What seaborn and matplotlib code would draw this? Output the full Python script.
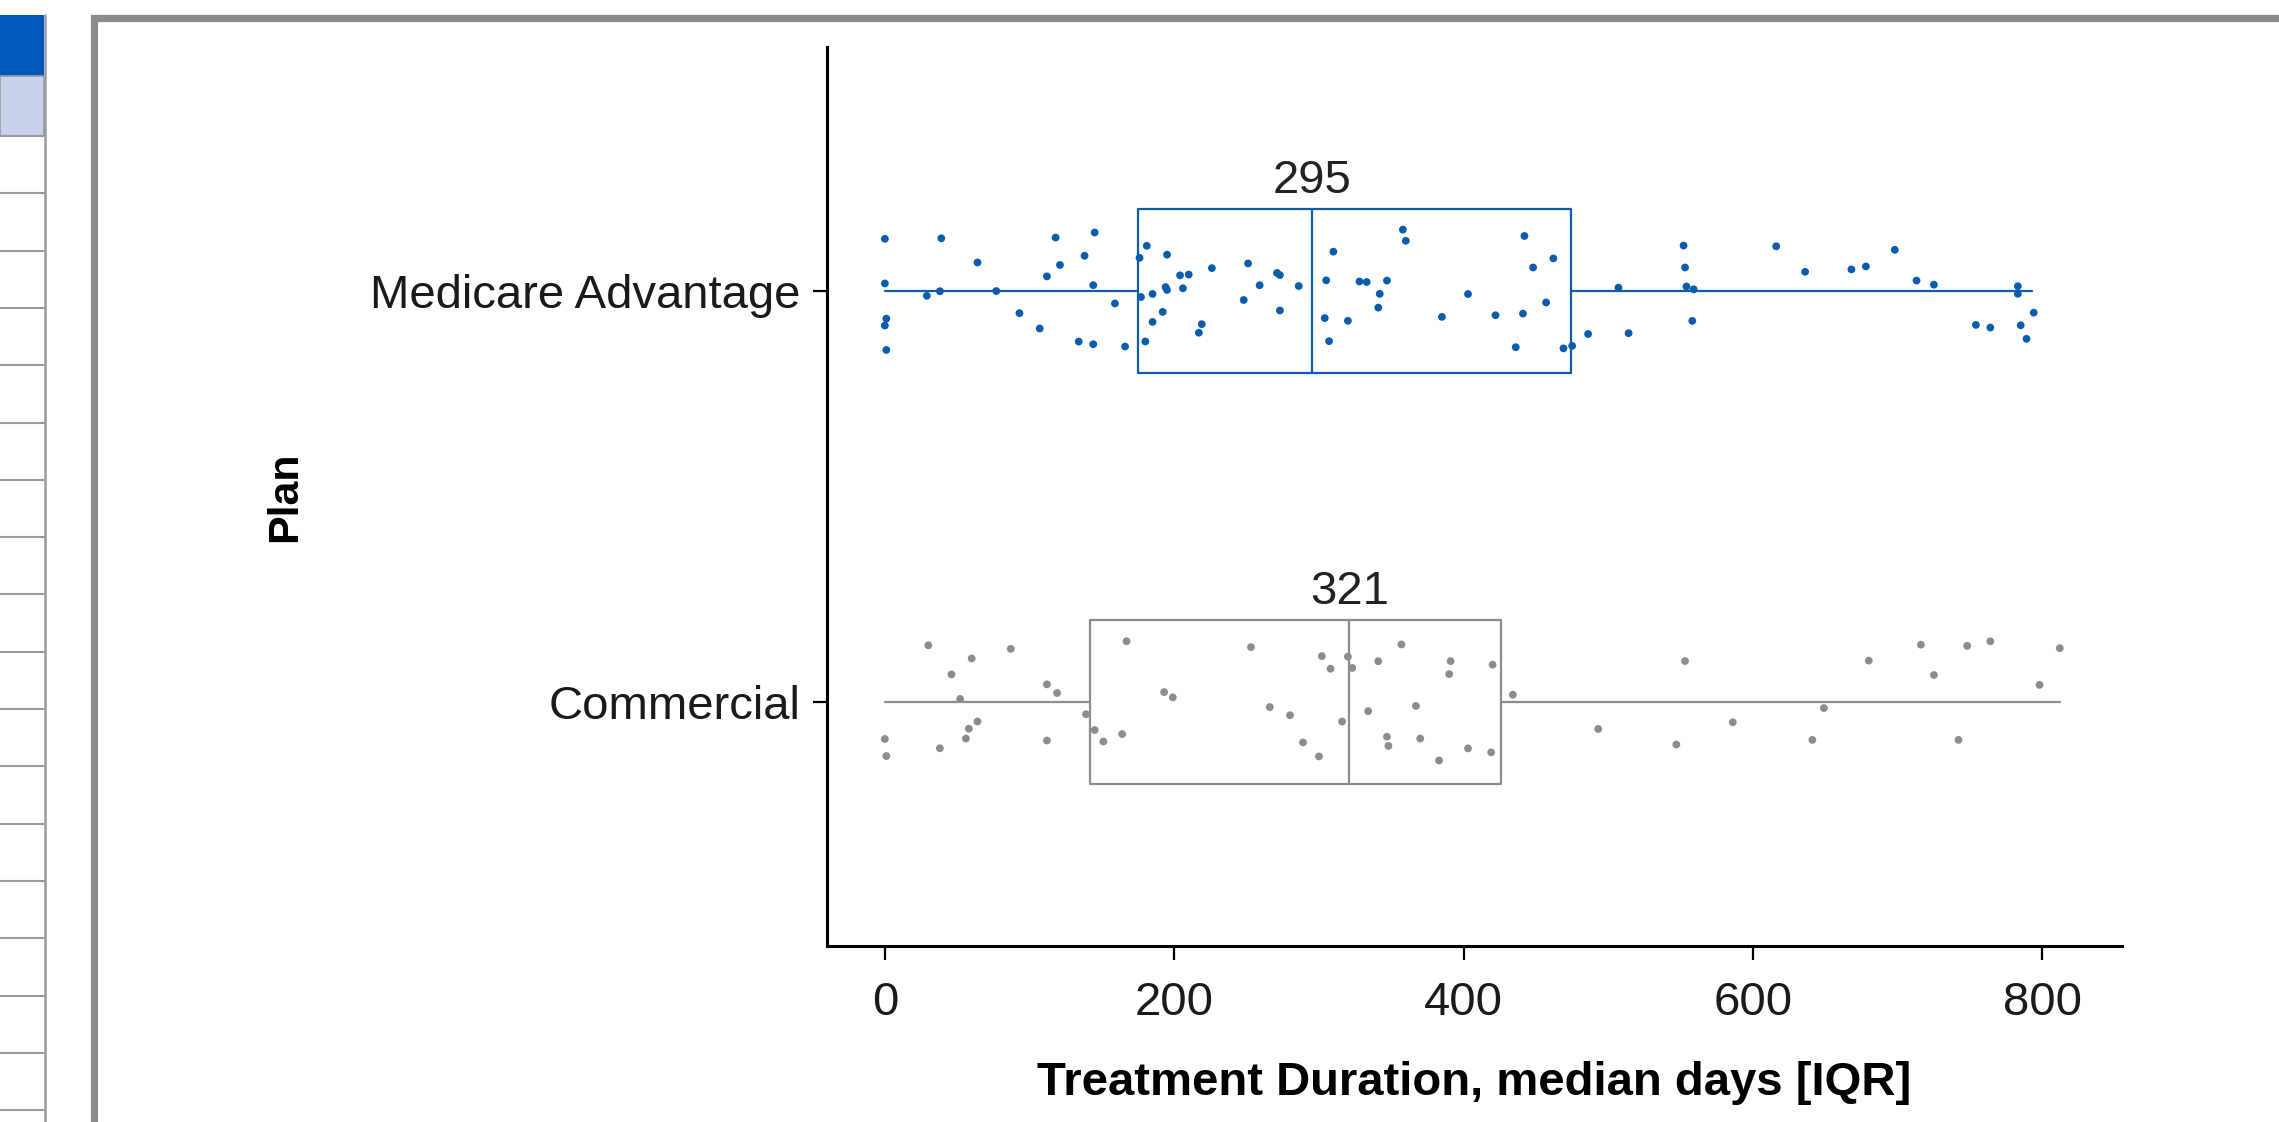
import numpy as np
import pandas as pd
import matplotlib
matplotlib.use("Agg")
import matplotlib.pyplot as plt
import seaborn as sns
from matplotlib.patches import Rectangle
from matplotlib.lines import Line2D

# ---------------- data ----------------
plans = ["Medicare Advantage", "Commercial"]

medicare_days = [0, 0, 0, 1, 1, 29, 38, 39, 64, 77, 93, 107, 112, 118, 121,
                 134, 138, 144, 144, 145, 159, 166, 176, 177, 180, 181, 185, 185,
                 192, 194, 195, 195, 204, 206, 210, 217, 219, 226, 248, 251, 259,
                 271, 273, 273, 286, 304, 305, 307, 310, 320, 328, 333, 341, 342,
                 347, 358, 360, 385, 403, 422, 436, 441, 442, 448, 457, 462, 469,
                 475, 486, 507, 514, 552, 553, 554, 558, 559, 616, 636, 668, 678,
                 698, 713, 725, 754, 764, 783, 783, 785, 789, 794]

commercial_days = [0, 1, 30, 38, 46, 52, 56, 58, 60, 64, 87, 112, 112, 119, 139,
                   145, 151, 164, 167, 193, 199, 253, 266, 280, 289, 300, 302, 308,
                   316, 320, 323, 334, 341, 347, 348, 357, 367, 370, 383, 390, 391,
                   403, 419, 420, 434, 493, 547, 553, 586, 641, 649, 680, 716, 725,
                   742, 748, 764, 798, 812]

medians = [295, 321]
q1_vals = [175, 142]
q3_vals = [474, 426]
whisker_low = [0, 0]
whisker_high = [793, 812]
median_labels = ["295", "321"]
x_ticks = [0, 200, 400, 600, 800]

colors = ["#0b5cab", "#8c8c8e"]

# ---------------- style ----------------
sns.set_theme(style="ticks")
plt.rcParams['font.family'] = ['Liberation Sans', 'DejaVu Sans']

W, H = 2279, 1122
fig = plt.figure(figsize=(W / 100, H / 100), dpi=100)
fig.patch.set_facecolor("white")

def fx(px):
    return px / W

def fy(py):
    return 1 - py / H

# page decorations (left table strip + grey frame)
fig.add_artist(Rectangle((0, fy(76)), fx(44), (76 - 15) / H,
                         transform=fig.transFigure, facecolor="#0058ba",
                         edgecolor="none"))
fig.add_artist(Rectangle((0, fy(136)), fx(44), (136 - 76) / H,
                         transform=fig.transFigure, facecolor="#c9d0e9",
                         edgecolor="#9a9aa0", lw=1.2))
row_lines = [136 + 57.3 * k for k in range(18)]
for ry in row_lines:
    fig.add_artist(Line2D([0, fx(44)], [fy(ry), fy(ry)], transform=fig.transFigure,
                          color="#9a9a9e", lw=1.5))
fig.add_artist(Line2D([fx(45), fx(45)], [fy(15), 0], transform=fig.transFigure,
                      color="#9a9a9e", lw=1.8))
fig.add_artist(Rectangle((fx(93.5), -0.2), 1.2, fy(18) + 0.2,
                         transform=fig.transFigure, facecolor="none",
                         edgecolor="#8a8a8f", lw=5.2))

# ---------------- axes ----------------
ax_left, ax_right = 827, 2122
ax = fig.add_axes([fx(ax_left), fy(946), fx(ax_right) - fx(ax_left), (946 - 47) / H])
ax.set_facecolor("none")

df = pd.DataFrame({
    "Plan": [plans[0]] * len(medicare_days) + [plans[1]] * len(commercial_days),
    "days": medicare_days + commercial_days,
})

np.random.seed(7)
sns.stripplot(data=df, x="days", y="Plan", order=plans, hue="Plan",
              hue_order=plans, palette=colors, jitter=0.15, size=5.6,
              linewidth=0, legend=False, ax=ax, zorder=3)

stats = []
for i in range(len(plans)):
    stats.append(dict(med=medians[i], q1=q1_vals[i], q3=q3_vals[i],
                      whislo=whisker_low[i], whishi=whisker_high[i], fliers=[]))

kw = dict(positions=[0, 1], widths=0.4, showcaps=False, showfliers=False,
          patch_artist=False, manage_ticks=False)
try:
    bp = ax.bxp(stats, orientation="horizontal", **kw)
except TypeError:
    bp = ax.bxp(stats, vert=False, **kw)

for i, c in enumerate(colors):
    bp["boxes"][i].set(color=c, linewidth=1.6, zorder=2)
    bp["medians"][i].set(color=c, linewidth=1.6, zorder=2)
    for w in bp["whiskers"][2 * i:2 * i + 2]:
        w.set(color=c, linewidth=1.6, zorder=2)

for i, lab in enumerate(median_labels):
    ax.text(medians[i], i - 0.215, lab, ha="center", va="bottom",
            fontsize=34, color="#222222")

ax.set_xlim(-40, 855)
ax.set_ylim(1.594, -0.594)
ax.set_xticks(x_ticks)
ax.set_xticklabels([str(t) for t in x_ticks])

sns.despine(ax=ax)
for s in ["left", "bottom"]:
    ax.spines[s].set_color("black")
    ax.spines[s].set_linewidth(2.2)

ax.tick_params(axis="both", direction="out", length=10, width=1.6,
               color="black", labelsize=34, labelcolor="#1a1a1a")
ax.tick_params(axis="x", pad=15)
ax.tick_params(axis="y", pad=9)

ax.set_xlabel("Treatment Duration, median days [IQR]", fontsize=34,
              fontweight="bold", labelpad=26, color="black")
ax.set_ylabel("Plan", fontsize=31, fontweight="bold", color="black")
ax.yaxis.set_label_coords((305 - ax_left) / (ax_right - ax_left), 0.5)

fig.savefig("out.png", dpi=100, facecolor="white")
